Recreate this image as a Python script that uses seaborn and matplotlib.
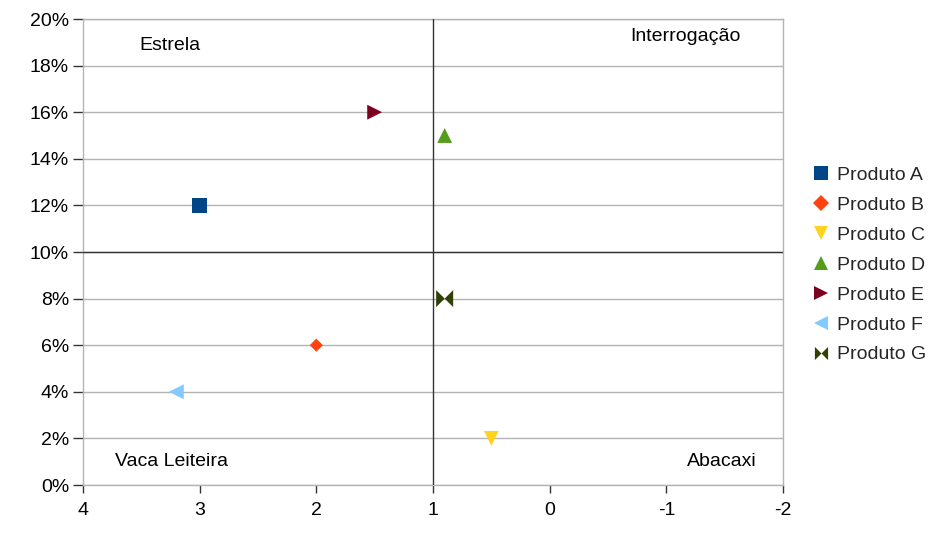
import matplotlib
matplotlib.use("Agg")
import matplotlib.pyplot as plt
import seaborn as sns
import pandas as pd
from matplotlib.ticker import PercentFormatter, MultipleLocator
from matplotlib.lines import Line2D

produtos = ["Produto A", "Produto B", "Produto C", "Produto D", "Produto E", "Produto F", "Produto G"]
participacao = [3.0, 2.0, 0.5, 0.9, 1.5, 3.2, 0.9]
crescimento = [0.12, 0.06, 0.02, 0.15, 0.16, 0.04, 0.08]
cores = ["#004586", "#ff420e", "#ffd320", "#579d1c", "#7e0021", "#83caff", "#314004"]
quadrantes = ["Estrela", "Interrogação", "Vaca Leiteira", "Abacaxi"]

bowtie = [(-1, -1), (0, 0), (1, -1), (1, 1), (0, 0), (-1, 1), (-1, -1)]
marcadores = ["s", "D", "v", "^", ">", "<", bowtie]
tamanhos = [115, 45, 115, 115, 115, 115, 150]

df = pd.DataFrame({"Produto": produtos, "x": participacao, "y": crescimento})

sns.set_theme(style="white")
plt.rcParams["font.family"] = ["Liberation Sans", "DejaVu Sans"]
plt.rcParams["axes.unicode_minus"] = False

FS = 14

fig = plt.figure(figsize=(9.39, 5.39), dpi=100)
ax = fig.add_axes([83 / 939, 1 - 485 / 539, 700 / 939, 466 / 539])

sns.scatterplot(data=df, x="x", y="y", hue="Produto", style="Produto", size="Produto",
                palette=dict(zip(produtos, cores)),
                markers=dict(zip(produtos, marcadores)),
                sizes=dict(zip(produtos, tamanhos)),
                linewidth=0, legend=False, ax=ax, zorder=5)

ax.set_xlim(4, -2)
ax.set_ylim(0, 0.20)
ax.xaxis.set_major_locator(MultipleLocator(1))
ax.yaxis.set_major_locator(MultipleLocator(0.02))
ax.yaxis.set_major_formatter(PercentFormatter(1.0, decimals=0))
ax.set_xlabel("")
ax.set_ylabel("")

ax.grid(axis="y", color="#b3b3b3", linewidth=1)
ax.grid(axis="x", visible=False)
for s in ax.spines.values():
    s.set_color("#b3b3b3")
    s.set_linewidth(1)

ax.axvline(1, color="#333333", linewidth=1, zorder=3)
ax.axhline(0.10, color="#333333", linewidth=1, zorder=3)

ax.tick_params(axis="y", which="major", left=True, length=7, width=1, color="#333333",
               pad=3, labelsize=FS, labelcolor="black")
ax.tick_params(axis="x", which="major", bottom=True, length=6, width=1, color="#333333",
               pad=6, labelsize=FS, labelcolor="black")

pos = [(0.124, 0.944), (0.86, 0.9635), (0.127, 0.0515), (0.913, 0.0515)]
for t, (px, py) in zip(quadrantes, pos):
    ax.text(px, py, t, transform=ax.transAxes, ha="center", va="center", fontsize=FS, color="black")

handles = [Line2D([], [], linestyle="", marker=m, color=c, markeredgewidth=0,
                  markersize=(8 if m == "D" else 9.5))
           for m, c in zip(marcadores, cores)]
fig.legend(handles, produtos, loc="center left", bbox_to_anchor=(814 / 939, 1 - 265 / 539),
           frameon=False, fontsize=FS, handlelength=0.75, handletextpad=0.45,
           labelspacing=0.63, borderaxespad=0, borderpad=0)

fig.savefig("out.png", dpi=100)
